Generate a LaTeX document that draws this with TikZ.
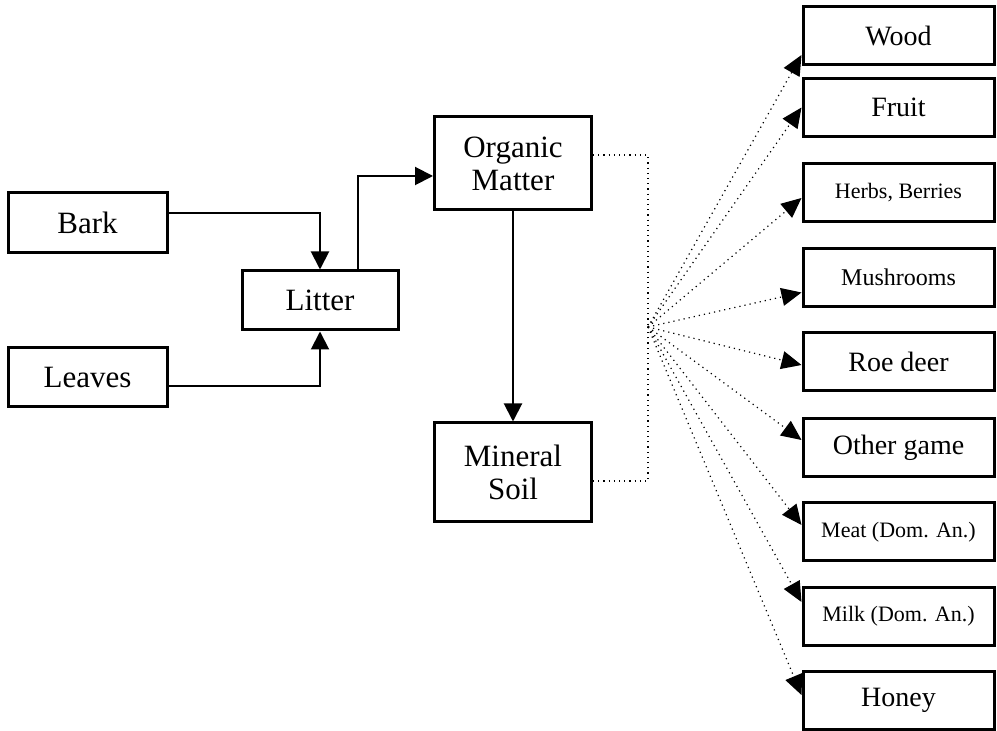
\documentclass[tikz,border=0pt]{standalone}
\usepackage{fontspec}
\setmainfont{Liberation Serif}
\usetikzlibrary{calc,arrows.meta}

\tikzset{
  box/.style={draw, rectangle, line width=1.5pt, inner sep=0pt, align=center},
  bigtext/.style={font=\fontsize{15.5}{16.5}\selectfont},
  flowarrow/.style={line width=1pt, -{Triangle[length=9pt,width=9pt]}},
  soillink/.style={line width=0.6pt, dotted},
  yieldarrow/.style={line width=0.6pt, dotted, -{Triangle[length=10pt,width=9pt]}},
}

\begin{document}
\begin{tikzpicture}[x=0.5pt, y=-0.5pt]
        \useasboundingbox (0,0) rectangle (997,731);
        \node[box, bigtext, minimum width=79.5pt, minimum height=30pt] (bark) at (87.5,223) {Bark};
        \node[box, bigtext, minimum width=79.5pt, minimum height=29.5pt] (leaves) at (87.5,377.5) {Leaves};
        \node[box, bigtext, minimum width=78pt, minimum height=29.5pt] (litter) at (320,300.5) {Litter};
        \node[box, bigtext, minimum width=78.5pt, minimum height=46.5pt] (organic) at (513,163.5) {Organic\\Matter};
        \node[box, bigtext, minimum width=78.5pt, minimum height=49.5pt] (mineral) at (513,472.5) {Mineral\\Soil};
        \coordinate (hub) at (648,327);
        \foreach \name/\ypos/\size/\txt in {wood/36/14/Wood, fruit/107.5/14/Fruit, herbs/192.5/11/{Herbs, Berries}, mush/277.5/12/Mushrooms, roe/361.5/14/Roe deer, other/447.5/14/Other game, meat/532/11/Meat (Dom. An.), milk/616.5/11/Milk (Dom. An.), honey/700.5/14/Honey}{
        \node[box, minimum width=95.5pt, minimum height=29pt, font=\fontsize{\size}{\size}\selectfont] (\name) at (898.5,\ypos) {\txt};
        }
        \draw[flowarrow] ([yshift=5pt]bark.east) -| (litter.north);
        \draw[flowarrow] ([yshift=-4.25pt]leaves.east) -| (litter.south);
        \draw[flowarrow] ([xshift=19pt]litter.north) |- ([yshift=-6.25pt]organic.west);
        \draw[flowarrow] (organic) -- (mineral);
        \draw[soillink] ([yshift=4.25pt]organic.east) -| (hub);
        \draw[soillink] ([yshift=-4.25pt]mineral.east) -| (hub);
        \foreach \name/\dy in {wood/-9.5, fruit/0, herbs/-2.75, mush/-7.5, roe/-1.75, other/3.75, meat/3.5, milk/7.25, honey/2.75}{
        \draw[yieldarrow] (hub) -- ([yshift=\dy pt]\name.west);
        }
    \end{tikzpicture}
\end{document}
